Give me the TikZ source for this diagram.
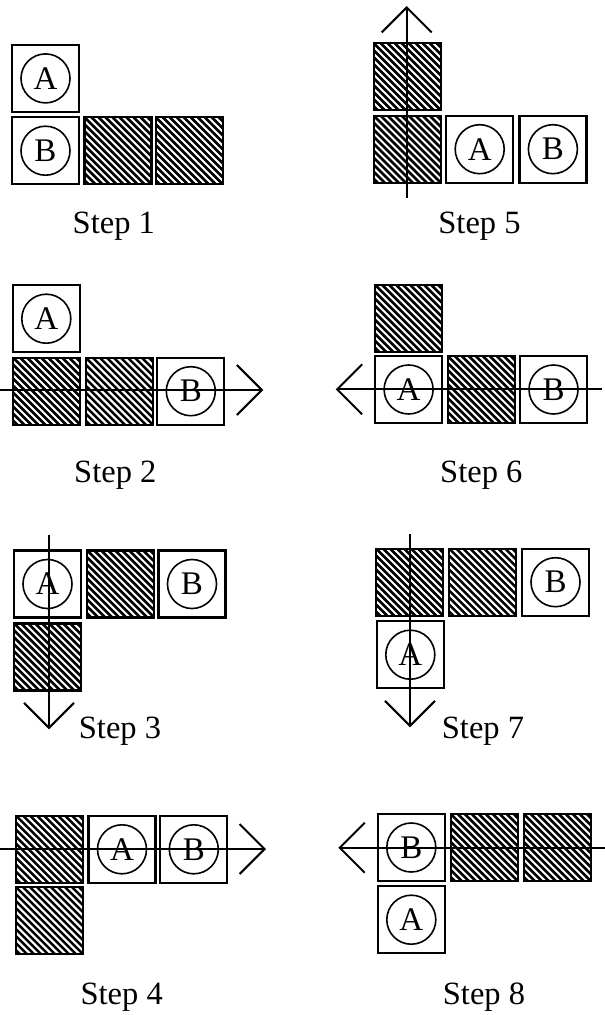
\documentclass[tikz,border=0pt]{standalone}
\usepackage{fontspec}
\setmainfont{Liberation Serif}
\usetikzlibrary{arrows.meta}
\tikzset{
 cell/.style={draw, line width=2.2pt, minimum size=67pt, inner sep=0pt, outer sep=0pt},
 hatched/.style={cell, path picture={
   \foreach \i in {-84,-77,...,84} {\draw[line width=2.6pt] ([xshift=\i pt]path picture bounding box.north west) -- ++(90pt,-90pt);}
 }},
 tok/.style={circle, draw, line width=1.6pt, minimum size=49pt, inner sep=0pt, font=\fontsize{33}{33}\selectfont},
 steplabel/.style={anchor=base, font=\fontsize{32.5}{38}\selectfont, inner sep=0pt},
 move/.style={line width=2pt, -{Straight Barb[length=25pt,width=50pt,line width=2pt]}},
}
\begin{document}
\begin{tikzpicture}[x=1pt,y=-1pt]
\useasboundingbox (0,0) rectangle (605,1015);
% Step 1
\node[cell] (a1) at (45.5,78.4) {}; \node[tok] (a1c) at (a1) {A};
\node[cell] (b1) at (45.5,150.7) {}; \node[tok] (b1c) at (b1) {B};
\node[hatched] (h1a) at (118,150.7) {};
\node[hatched] (h1b) at (189.2,150.7) {};
\node[steplabel] (l1) at (113.8,233.3) {Step 1};
% Step 5
\node[hatched] (h5a) at (407.2,76.7) {};
\node[hatched] (h5b) at (407.2,149.2) {};
\node[cell] (a5) at (479.7,149.2) {}; \node[tok] (a5c) at (a5) {A};
\node[cell] (b5) at (552.9,149.2) {}; \node[tok] (b5c) at (b5) {B};
\coordinate (s5) at (406.7,198); \coordinate (t5) at (406.7,6);
\draw[move] (s5) -- (t5);
\node[steplabel] (l5) at (479.5,233.3) {Step 5};
% Step 2
\node[cell] (a2) at (46.3,318.7) {}; \node[tok] (a2c) at (a2) {A};
\node[hatched] (h2a) at (46.7,391.2) {};
\node[hatched] (h2b) at (119.3,391.2) {};
\node[cell] (b2) at (190.8,391.2) {}; \node[tok] (b2c) at (b2) {B};
\coordinate (s2) at (0,390); \coordinate (t2) at (263.3,390);
\draw[move] (s2) -- (t2);
\node[steplabel] (l2) at (115.3,482.7) {Step 2};
% Step 6
\node[hatched] (h6a) at (408.5,318.2) {};
\node[cell] (a6) at (408.6,389.5) {}; \node[tok] (a6c) at (a6) {A};
\node[hatched] (h6b) at (481.3,389.5) {};
\node[cell] (b6) at (553.5,389.5) {}; \node[tok] (b6c) at (b6) {B};
\coordinate (s6) at (602.3,389.3); \coordinate (t6) at (335.7,389.3);
\draw[move] (s6) -- (t6);
\node[steplabel] (l6) at (481.3,482.7) {Step 6};
% Step 3
\node[cell] (a3) at (47.5,584) {}; \node[tok] (a3c) at (a3) {A};
\node[hatched] (h3a) at (120.7,584) {};
\node[cell] (b3) at (192,584) {}; \node[tok] (b3c) at (b3) {B};
\node[hatched] (h3b) at (47.8,657) {};
\coordinate (s3) at (49,535); \coordinate (t3) at (49,729.3);
\draw[move] (s3) -- (t3);
\node[steplabel] (l3) at (120,738) {Step 3};
% Step 7
\node[hatched] (h7a) at (409.7,582.2) {};
\node[hatched] (h7b) at (482.8,582.2) {};
\node[cell] (b7) at (555.5,582.2) {}; \node[tok] (b7c) at (b7) {B};
\node[cell] (a7) at (410.3,654.7) {}; \node[tok] (a7c) at (a7) {A};
\coordinate (s7) at (410,534); \coordinate (t7) at (410,727.3);
\draw[move] (s7) -- (t7);
\node[steplabel] (l7) at (483,738) {Step 7};
% Step 4
\node[hatched] (h4a) at (49.7,849.3) {};
\node[cell] (a4) at (122,849.3) {}; \node[tok] (a4c) at (a4) {A};
\node[cell] (b4) at (193.8,849.3) {}; \node[tok] (b4c) at (b4) {B};
\node[hatched] (h4b) at (49.7,920.8) {};
\coordinate (s4) at (0,849); \coordinate (t4) at (266,849);
\draw[move] (s4) -- (t4);
\node[steplabel] (l4) at (121.7,1004) {Step 4};
% Step 8
\node[cell] (b8) at (411.3,847.5) {}; \node[tok] (b8c) at (b8) {B};
\node[hatched] (h8a) at (484.2,847.5) {};
\node[hatched] (h8b) at (557.2,847.5) {};
\node[cell] (a8) at (411.3,919.7) {}; \node[tok] (a8c) at (a8) {A};
\coordinate (s8) at (605,847.7); \coordinate (t8) at (338.3,847.7);
\draw[move] (s8) -- (t8);
\node[steplabel] (l8) at (484,1004) {Step 8};
\end{tikzpicture}
\end{document}
